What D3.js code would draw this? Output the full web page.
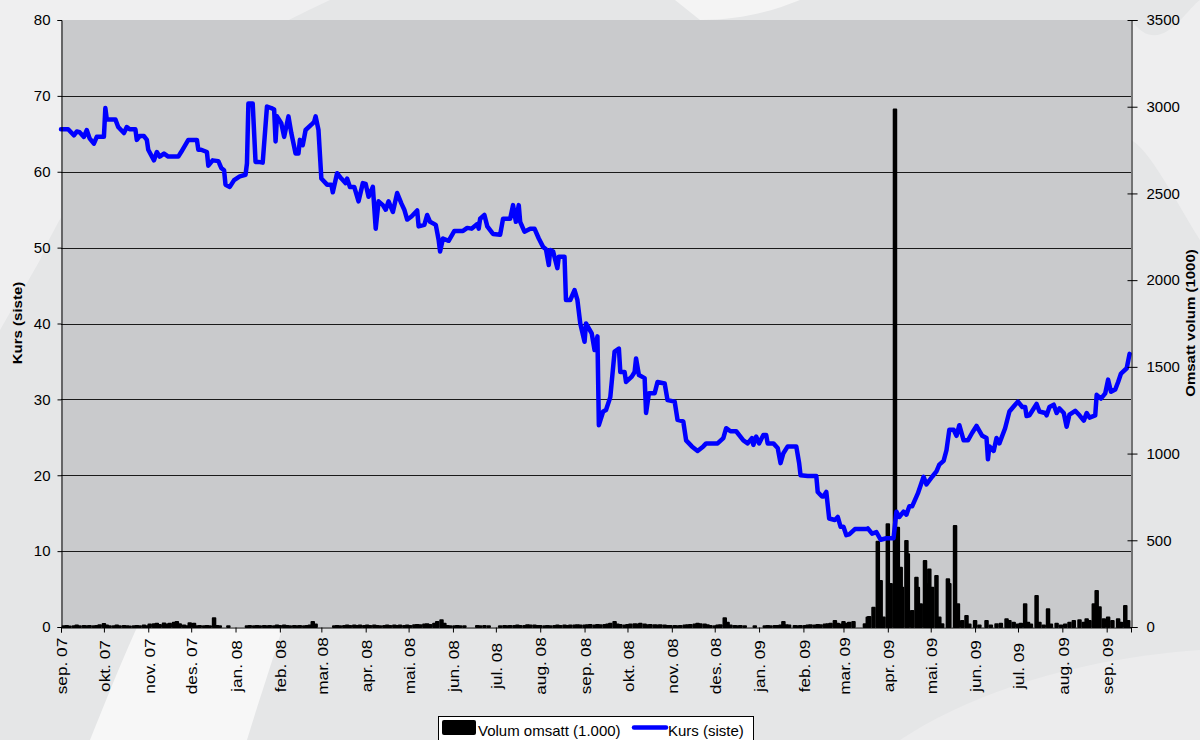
<!DOCTYPE html>
<html>
<head>
<meta charset="utf-8">
<script src="https://cdn.jsdelivr.net/npm/d3@7"></script>
<style>
  html, body { margin: 0; padding: 0; background: #e6e7e8; }
  svg { display: block; font-family: "Liberation Sans", Arial, sans-serif; }
</style>
</head>
<body>
<svg id="chart"></svg>
<script>
// ---- data ----
// price (kurs), NOK
const kurs = [
  ["2007-09-01",65.6],["2007-09-06",65.6],["2007-09-10",64.8],["2007-09-12",65.3],["2007-09-14",65.2],["2007-09-17",64.6],
  ["2007-09-19",65.5],["2007-09-21",64.4],["2007-09-24",63.7],["2007-09-26",64.6],["2007-10-01",64.6],["2007-10-02",68.4],
  ["2007-10-03",66.9],["2007-10-09",66.9],["2007-10-11",65.9],["2007-10-15",65.1],["2007-10-17",65.9],["2007-10-19",65.6],
  ["2007-10-23",65.6],["2007-10-24",64.2],["2007-10-26",64.7],["2007-10-29",64.7],["2007-10-31",64.2],["2007-11-01",62.9],
  ["2007-11-05",61.5],["2007-11-07",62.6],["2007-11-09",62.0],["2007-11-12",62.4],["2007-11-15",62.0],["2007-11-22",62.0],
  ["2007-11-24",62.6],["2007-11-29",64.2],["2007-12-05",64.2],["2007-12-06",62.9],["2007-12-08",62.9],["2007-12-12",62.6],
  ["2007-12-13",60.8],["2007-12-16",61.5],["2007-12-20",61.4],["2007-12-22",60.5],["2007-12-24",60.2],["2007-12-25",58.3],
  ["2007-12-28",58.0],["2007-12-31",58.9],["2008-01-04",59.4],["2008-01-08",59.6],["2008-01-09",61.1],["2008-01-10",69.0],
  ["2008-01-13",69.0],["2008-01-15",61.3],["2008-01-17",61.3],["2008-01-20",61.2],["2008-01-23",68.6],["2008-01-26",68.4],
  ["2008-01-28",68.2],["2008-01-29",64.0],["2008-01-30",67.3],["2008-02-02",66.4],["2008-02-04",64.6],["2008-02-07",67.3],
  ["2008-02-09",65.1],["2008-02-12",62.4],["2008-02-14",62.4],["2008-02-15",64.2],["2008-02-17",63.5],["2008-02-19",65.5],
  ["2008-02-23",66.2],["2008-02-25",66.6],["2008-02-26",67.3],["2008-02-28",65.5],["2008-03-01",59.1],["2008-03-05",58.3],
  ["2008-03-08",58.3],["2008-03-09",57.3],["2008-03-12",59.8],["2008-03-15",59.1],["2008-03-18",58.5],["2008-03-19",59.1],
  ["2008-03-21",58.0],["2008-03-24",58.0],["2008-03-27",56.1],["2008-03-30",58.5],["2008-04-01",58.4],["2008-04-03",56.7],
  ["2008-04-06",58.0],["2008-04-08",52.5],["2008-04-10",56.1],["2008-04-13",55.6],["2008-04-15",55.0],["2008-04-17",56.1],
  ["2008-04-20",54.7],["2008-04-23",57.2],["2008-04-26",55.8],["2008-04-28",55.0],["2008-04-30",53.7],["2008-05-03",54.1],
  ["2008-05-07",54.9],["2008-05-08",52.8],["2008-05-12",53.0],["2008-05-14",54.3],["2008-05-16",53.4],["2008-05-20",53.0],
  ["2008-05-22",51.0],["2008-05-23",49.5],["2008-05-25",51.2],["2008-05-29",50.9],["2008-06-02",52.2],["2008-06-08",52.2],
  ["2008-06-11",52.6],["2008-06-14",52.5],["2008-06-18",53.1],["2008-06-19",52.5],["2008-06-20",53.8],["2008-06-23",54.3],
  ["2008-06-25",52.8],["2008-06-29",51.8],["2008-07-04",51.7],["2008-07-06",53.8],["2008-07-11",53.8],["2008-07-13",55.6],
  ["2008-07-15",53.4],["2008-07-17",55.6],["2008-07-18",53.4],["2008-07-21",52.1],["2008-07-25",52.5],["2008-07-28",52.5],
  ["2008-07-31",51.2],["2008-08-03",50.1],["2008-08-05",49.8],["2008-08-07",47.7],["2008-08-08",49.7],["2008-08-10",49.5],
  ["2008-08-13",47.3],["2008-08-14",48.8],["2008-08-18",48.8],["2008-08-19",43.1],["2008-08-22",43.1],["2008-08-25",44.4],
  ["2008-08-27",43.1],["2008-08-29",40.0],["2008-09-01",37.6],["2008-09-02",40.0],["2008-09-06",38.7],["2008-09-08",36.5],
  ["2008-09-10",38.3],["2008-09-11",26.6],["2008-09-14",28.4],["2008-09-16",28.6],["2008-09-19",30.3],["2008-09-22",36.3],
  ["2008-09-25",36.7],["2008-09-26",33.6],["2008-09-29",33.6],["2008-09-30",32.3],["2008-10-04",33.0],["2008-10-06",33.6],
  ["2008-10-07",35.4],["2008-10-09",33.2],["2008-10-13",32.8],["2008-10-14",28.2],["2008-10-16",30.8],["2008-10-20",30.8],
  ["2008-10-22",32.3],["2008-10-27",32.1],["2008-10-29",29.9],["2008-11-03",29.7],["2008-11-05",27.3],["2008-11-09",27.1],
  ["2008-11-11",24.6],["2008-11-15",23.8],["2008-11-19",23.2],["2008-11-23",23.8],["2008-11-25",24.2],["2008-12-03",24.2],
  ["2008-12-07",24.9],["2008-12-09",26.2],["2008-12-12",25.8],["2008-12-16",25.8],["2008-12-21",24.6],["2008-12-24",24.2],
  ["2008-12-27",24.9],["2008-12-28",24.0],["2008-12-30",25.1],["2009-01-01",24.2],["2009-01-04",25.3],["2009-01-06",25.3],
  ["2009-01-07",24.2],["2009-01-11",24.2],["2009-01-14",23.6],["2009-01-16",21.6],["2009-01-18",22.9],["2009-01-21",23.8],
  ["2009-01-27",23.8],["2009-01-29",21.6],["2009-01-30",20.0],["2009-02-04",19.9],["2009-02-10",19.9],["2009-02-11",17.8],
  ["2009-02-14",17.2],["2009-02-15",17.2],["2009-02-17",17.8],["2009-02-19",14.3],["2009-02-23",14.1],["2009-02-25",14.5],
  ["2009-02-27",13.2],["2009-03-01",13.2],["2009-03-03",12.1],["2009-03-05",12.2],["2009-03-09",12.9],["2009-03-17",12.9],
  ["2009-03-18",13.0],["2009-03-21",12.3],["2009-03-24",12.5],["2009-03-27",11.5],["2009-03-31",11.7],["2009-04-05",11.7],
  ["2009-04-07",15.2],["2009-04-09",14.5],["2009-04-12",15.2],["2009-04-14",14.8],["2009-04-16",15.9],["2009-04-18",15.9],
  ["2009-04-22",17.6],["2009-04-26",19.8],["2009-04-28",18.8],["2009-05-02",19.8],["2009-05-05",20.5],["2009-05-07",21.4],
  ["2009-05-10",21.9],["2009-05-12",23.3],["2009-05-14",26.0],["2009-05-17",26.0],["2009-05-19",25.2],["2009-05-21",26.6],
  ["2009-05-24",24.6],["2009-05-27",24.6],["2009-05-30",25.6],["2009-06-02",26.5],["2009-06-06",25.2],["2009-06-09",24.9],
  ["2009-06-10",22.1],["2009-06-11",23.8],["2009-06-14",23.2],["2009-06-16",24.9],["2009-06-18",24.2],["2009-06-22",26.2],
  ["2009-06-25",28.4],["2009-06-29",29.3],["2009-07-01",29.7],["2009-07-04",29.0],["2009-07-06",29.0],["2009-07-07",27.8],
  ["2009-07-09",27.9],["2009-07-14",29.4],["2009-07-16",28.4],["2009-07-20",28.2],["2009-07-21",27.9],["2009-07-23",29.0],
  ["2009-07-26",29.3],["2009-07-28",28.2],["2009-07-30",28.8],["2009-08-02",28.2],["2009-08-04",26.4],["2009-08-06",28.0],
  ["2009-08-10",28.5],["2009-08-13",27.9],["2009-08-16",27.2],["2009-08-18",28.2],["2009-08-20",27.6],["2009-08-24",27.9],
  ["2009-08-25",30.6],["2009-08-28",30.1],["2009-08-31",30.8],["2009-09-02",32.6],["2009-09-04",31.0],["2009-09-07",31.3],
  ["2009-09-09",32.3],["2009-09-11",33.4],["2009-09-15",34.1],["2009-09-17",36.0]
];

// traded volume (1000)
const volum = [
  ["2007-09-03",10],["2007-09-05",12],["2007-09-07",8],["2007-09-10",10],["2007-09-12",14],["2007-09-14",10],["2007-09-17",12],
  ["2007-09-19",10],["2007-09-21",12],["2007-09-24",10],["2007-09-26",12],["2007-09-28",16],["2007-10-01",23],["2007-10-03",14],
  ["2007-10-05",10],["2007-10-08",10],["2007-10-10",14],["2007-10-12",10],["2007-10-15",12],["2007-10-17",10],["2007-10-19",8],
  ["2007-10-22",10],["2007-10-24",12],["2007-10-26",10],["2007-10-29",14],["2007-10-31",10],["2007-11-02",20],["2007-11-05",22],
  ["2007-11-07",24],["2007-11-09",18],["2007-11-12",26],["2007-11-14",20],["2007-11-16",24],["2007-11-19",30],["2007-11-21",35],
  ["2007-11-23",22],["2007-11-26",14],["2007-11-28",10],["2007-11-30",27],["2007-12-03",25],["2007-12-05",10],["2007-12-07",12],
  ["2007-12-10",10],["2007-12-12",12],["2007-12-14",10],["2007-12-17",56],["2007-12-19",12],["2007-12-21",10],["2007-12-27",10],
  ["2008-01-09",10],["2008-01-11",12],["2008-01-14",10],["2008-01-16",12],["2008-01-18",10],["2008-01-21",12],["2008-01-23",10],
  ["2008-01-25",12],["2008-01-28",10],["2008-01-30",14],["2008-02-01",12],["2008-02-04",14],["2008-02-06",12],["2008-02-08",10],
  ["2008-02-11",12],["2008-02-13",10],["2008-02-15",12],["2008-02-18",10],["2008-02-20",12],["2008-02-22",14],["2008-02-24",35],
  ["2008-02-26",20],["2008-03-10",10],["2008-03-12",12],["2008-03-14",10],["2008-03-17",12],["2008-03-19",14],["2008-03-21",12],
  ["2008-03-24",14],["2008-03-26",12],["2008-03-28",14],["2008-03-31",12],["2008-04-02",14],["2008-04-04",12],["2008-04-07",14],
  ["2008-04-09",12],["2008-04-11",10],["2008-04-14",12],["2008-04-16",14],["2008-04-18",12],["2008-04-21",14],["2008-04-23",12],
  ["2008-04-25",14],["2008-04-28",12],["2008-04-30",14],["2008-05-02",12],["2008-05-05",16],["2008-05-07",18],["2008-05-09",16],
  ["2008-05-12",20],["2008-05-14",22],["2008-05-16",18],["2008-05-19",24],["2008-05-21",35],["2008-05-24",44],["2008-05-26",24],
  ["2008-05-28",12],["2008-05-30",10],["2008-06-02",10],["2008-06-04",12],["2008-06-06",10],["2008-06-09",10],["2008-06-18",12],
  ["2008-06-20",10],["2008-06-23",12],["2008-06-26",10],["2008-07-04",10],["2008-07-07",12],["2008-07-09",10],["2008-07-11",12],
  ["2008-07-14",12],["2008-07-16",14],["2008-07-18",12],["2008-07-21",12],["2008-07-23",16],["2008-07-25",14],["2008-07-28",14],
  ["2008-07-30",12],["2008-08-01",12],["2008-08-04",10],["2008-08-06",12],["2008-08-08",10],["2008-08-11",12],["2008-08-13",14],
  ["2008-08-15",12],["2008-08-18",14],["2008-08-20",12],["2008-08-22",14],["2008-08-25",14],["2008-08-27",16],["2008-08-29",14],
  ["2008-09-01",14],["2008-09-03",16],["2008-09-05",18],["2008-09-08",14],["2008-09-10",18],["2008-09-12",16],["2008-09-15",18],
  ["2008-09-17",20],["2008-09-19",24],["2008-09-22",35],["2008-09-24",20],["2008-09-26",18],["2008-09-29",14],["2008-10-01",18],
  ["2008-10-03",20],["2008-10-06",22],["2008-10-08",20],["2008-10-10",24],["2008-10-13",20],["2008-10-15",16],["2008-10-17",18],
  ["2008-10-20",16],["2008-10-22",14],["2008-10-24",16],["2008-10-27",14],["2008-10-29",12],["2008-10-31",12],["2008-11-03",12],
  ["2008-11-05",10],["2008-11-07",12],["2008-11-10",14],["2008-11-12",16],["2008-11-14",18],["2008-11-17",20],["2008-11-19",24],
  ["2008-11-21",22],["2008-11-24",20],["2008-11-26",16],["2008-11-28",12],["2008-12-01",10],["2008-12-03",14],["2008-12-05",16],
  ["2008-12-08",56],["2008-12-10",30],["2008-12-12",14],["2008-12-15",12],["2008-12-17",10],["2008-12-19",12],["2008-12-22",10],
  ["2008-12-29",10],["2009-01-05",10],["2009-01-07",12],["2009-01-09",10],["2009-01-12",12],["2009-01-14",12],["2009-01-16",14],
  ["2009-01-18",35],["2009-01-20",16],["2009-01-22",14],["2009-01-26",12],["2009-01-28",10],["2009-01-30",12],["2009-02-02",12],
  ["2009-02-04",14],["2009-02-06",16],["2009-02-09",14],["2009-02-11",18],["2009-02-13",16],["2009-02-16",20],["2009-02-18",22],
  ["2009-02-20",24],["2009-02-23",40],["2009-02-25",24],["2009-02-27",20],["2009-03-01",35],["2009-03-03",25],["2009-03-05",30],
  ["2009-03-08",35],["2009-03-16",21],["2009-03-18",60],["2009-03-19",63],["2009-03-22",117],["2009-03-25",498],["2009-03-27",271],
  ["2009-03-29",60],["2009-04-01",598],["2009-04-03",254],["2009-04-06",2990],["2009-04-08",578],["2009-04-10",348],["2009-04-11",232],
  ["2009-04-14",502],["2009-04-15",425],["2009-04-18",98],["2009-04-21",290],["2009-04-22",232],["2009-04-24",137],["2009-04-27",386],
  ["2009-04-28",252],["2009-04-30",338],["2009-05-02",232],["2009-05-05",300],["2009-05-07",60],["2009-05-09",21],["2009-05-13",281],
  ["2009-05-14",254],["2009-05-18",588],["2009-05-20",137],["2009-05-23",40],["2009-05-26",69],["2009-05-28",20],["2009-06-01",40],
  ["2009-06-04",15],["2009-06-09",40],["2009-06-12",15],["2009-06-16",21],["2009-06-19",25],["2009-06-23",50],["2009-06-25",40],
  ["2009-06-28",30],["2009-07-01",20],["2009-07-03",25],["2009-07-06",137],["2009-07-08",30],["2009-07-10",20],["2009-07-14",185],
  ["2009-07-16",30],["2009-07-19",15],["2009-07-22",108],["2009-07-24",20],["2009-07-28",25],["2009-07-31",15],["2009-08-03",20],
  ["2009-08-06",30],["2009-08-09",40],["2009-08-13",45],["2009-08-16",30],["2009-08-18",50],["2009-08-20",40],["2009-08-23",137],
  ["2009-08-25",213],["2009-08-27",120],["2009-08-30",50],["2009-09-02",60],["2009-09-05",40],["2009-09-09",50],["2009-09-11",30],
  ["2009-09-14",127],["2009-09-16",40]
];

const monthNames = ["jan.", "feb.", "mar.", "apr.", "mai.", "jun.", "jul.", "aug.", "sep.", "okt.", "nov.", "des."];
const kursTicks = [0, 10, 20, 30, 40, 50, 60, 70, 80];
const volumTicks = [0, 500, 1000, 1500, 2000, 2500, 3000, 3500];
const dateRange = ["2007-09-01", "2009-09-18"];
const legendLabels = ["Volum omsatt (1.000)", "Kurs (siste)"];
const axisTitles = ["Kurs (siste)", "Omsatt volum (1000)"];

// ---- layout ----
const W = 1200, H = 740;
const plot = { left: 61, right: 1131, top: 20, bottom: 627 };
const parse = d3.timeParse("%Y-%m-%d");

const svg = d3.select("#chart").attr("width", W).attr("height", H);

// decorative background swooshes
const bg = svg.append("g");
bg.append("rect").attr("width", W).attr("height", H).attr("fill", "#e5e6e7");
bg.append("path").attr("fill", "#efeff0")
  .attr("d", "M0,0 L330,0 C200,60 90,140 40,260 L0,330 Z");
bg.append("path").attr("fill", "#f7f7f7")
  .attr("d", "M90,740 C110,690 130,640 150,600 L290,600 C280,640 262,690 247,740 Z");
bg.append("path").attr("fill", "#f4f4f4")
  .attr("d", "M675,0 L800,0 C770,12 740,20 700,20 Z");
bg.append("path").attr("fill", "#eeeeef")
  .attr("d", "M1131,20 C1160,60 1185,10 1200,0 L1200,240 C1175,200 1150,150 1131,140 Z");
bg.append("path").attr("fill", "#ececed")
  .attr("d", "M900,740 C960,700 1060,660 1200,650 L1200,740 Z");

const x = d3.scaleTime()
  .domain(dateRange.map(parse))
  .range([plot.left, plot.right]);
const yKurs = d3.scaleLinear().domain([0, 80]).range([plot.bottom, plot.top]);
const yVol = d3.scaleLinear().domain([0, 3500]).range([plot.bottom, plot.top]);

// plot area
svg.append("rect")
  .attr("x", plot.left).attr("y", plot.top)
  .attr("width", plot.right - plot.left).attr("height", plot.bottom - plot.top)
  .attr("fill", "#c9cacc");

// gridlines
svg.append("g")
  .selectAll("line")
  .data(kursTicks.filter(d => d > 0 && d < 80))
  .join("line")
  .attr("x1", plot.left).attr("x2", plot.right)
  .attr("y1", d => Math.round(yKurs(d)) + 0.5).attr("y2", d => Math.round(yKurs(d)) + 0.5)
  .attr("stroke", "#1a1a1a").attr("stroke-width", 1);

// volume bars
svg.append("g")
  .selectAll("rect")
  .data(volum)
  .join("rect")
  .attr("x", d => x(parse(d[0])) - 1.25)
  .attr("width", 2.5)
  .attr("y", d => yVol(d[1]) + 1)
  .attr("height", d => Math.max(0.5, plot.bottom - yVol(d[1]) - 1))
  .attr("fill", "#000")
  .attr("stroke", "#000")
  .attr("stroke-width", 2)
  .attr("stroke-linejoin", "round");

// price line
const line = d3.line()
  .x(d => x(parse(d[0])))
  .y(d => yKurs(d[1]));

svg.append("path")
  .datum(kurs)
  .attr("d", line)
  .attr("fill", "none")
  .attr("stroke", "#0000ff")
  .attr("stroke-width", 4.5)
  .attr("stroke-linejoin", "round")
  .attr("stroke-linecap", "round");

// axes
const fontSize = 15;
const leftAxis = svg.append("g").attr("transform", `translate(${plot.left + 0.5},0)`)
  .call(d3.axisLeft(yKurs).tickValues(kursTicks).tickSize(4).tickPadding(7));
const rightAxis = svg.append("g").attr("transform", `translate(${plot.right + 0.5},0)`)
  .call(d3.axisRight(yVol).tickValues(volumTicks).tickSize(6).tickPadding(9).tickFormat(d3.format("d")));
rightAxis.selectAll(".tick line").attr("x1", -4);

const months = d3.timeMonth.range(parse(dateRange[0]), parse(dateRange[1]));
const bottomAxis = svg.append("g").attr("transform", `translate(0,${plot.bottom + 0.5})`)
  .call(d3.axisBottom(x).tickValues(months).tickSize(5).tickFormat(""));

[leftAxis, rightAxis, bottomAxis].forEach(g => {
  g.select(".domain").attr("stroke", "#000");
  g.selectAll(".tick line").attr("stroke", "#000");
  g.selectAll("text").attr("font-size", fontSize).attr("fill", "#000")
    .attr("font-family", "'Liberation Sans', Arial, sans-serif");
});

// month labels, rotated
svg.append("g")
  .selectAll("text")
  .data(months)
  .join("text")
  .attr("transform", d => `translate(${x(d) + 1},666) scale(1,1.15) rotate(-90)`)
  .attr("text-anchor", "middle")
  .attr("dy", "0.35em")
  .attr("font-size", fontSize)
  .attr("fill", "#000")
  .text(d => `${monthNames[d.getMonth()]} ${String(d.getFullYear()).slice(2)}`);

// axis titles
svg.append("text")
  .attr("transform", `translate(22,323) scale(1,1.2) rotate(-90)`)
  .attr("text-anchor", "middle")
  .attr("font-size", 12.5).attr("font-weight", "bold")
  .text(axisTitles[0]);
svg.append("text")
  .attr("transform", `translate(1195,323) scale(1,1.2) rotate(-90)`)
  .attr("text-anchor", "middle")
  .attr("font-size", 12.5).attr("font-weight", "bold")
  .text(axisTitles[1]);

// legend
const legend = svg.append("g").attr("transform", "translate(438,716)");
legend.append("rect")
  .attr("x", 0.5).attr("y", 0.5).attr("width", 315).attr("height", 30)
  .attr("fill", "#fff").attr("stroke", "#000");
legend.append("rect")
  .attr("x", 4).attr("y", 4).attr("width", 34).attr("height", 15)
  .attr("fill", "#000").attr("rx", 2);
legend.append("text")
  .attr("x", 40).attr("y", 20).attr("font-size", fontSize).text(legendLabels[0]);
legend.append("line")
  .attr("x1", 196).attr("x2", 228).attr("y1", 11.5).attr("y2", 11.5)
  .attr("stroke", "#0000ff").attr("stroke-width", 4.5).attr("stroke-linecap", "round");
legend.append("text")
  .attr("x", 230).attr("y", 20).attr("font-size", fontSize).text(legendLabels[1]);
</script>
</body>
</html>
